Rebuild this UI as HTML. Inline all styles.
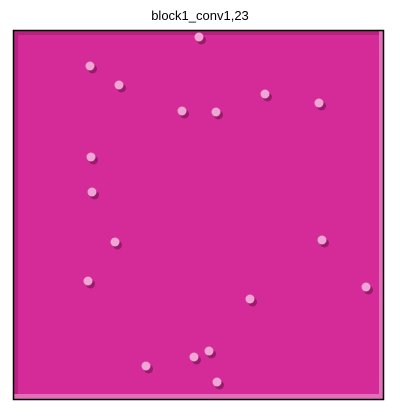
<!DOCTYPE html>
<html><head><meta charset="utf-8"><style>
html,body{margin:0;padding:0;background:#fff;width:400px;height:417px;overflow:hidden}
#title{position:absolute;left:0;width:400px;top:8px;text-align:center;font:13px "Liberation Sans",sans-serif;color:#000}
svg{position:absolute;left:0;top:0}
</style></head><body>
<div id="title">block1_conv1,23</div>
<svg width="400" height="417">
<rect x="13" y="30" width="371" height="370" fill="#d42b98"/>
<rect x="13" y="30" width="371" height="5" fill="#b8227f"/>
<rect x="13" y="30" width="5" height="370" fill="#b8227f"/>
<rect x="379" y="30" width="5" height="370" fill="#e070b8"/>
<rect x="13" y="394" width="371" height="6" fill="#e070b8"/>
<g id="spots"></g>
<rect x="13.5" y="30.5" width="370" height="369" fill="none" stroke="#000" stroke-width="1.5"/>
</svg>
<script>
const spotX=[91,120,266,320,217,183,92,93,116,323,89,367,251,210,195,147,218,200];
const spotY=[67,86,95,104,113,112,158,193,243,241,282,288,300,352,358,367,383,38];
const g=document.getElementById('spots');
const ns='http://www.w3.org/2000/svg';
for(let i=0;i<spotX.length;i++){
  const d=document.createElementNS(ns,'circle');
  d.setAttribute('cx',spotX[i]+1.5);d.setAttribute('cy',spotY[i]+2);
  d.setAttribute('r',4.5);d.setAttribute('fill','#9a1a6c');
  
  
  g.appendChild(d);
  const s=document.createElementNS(ns,'circle');
  s.setAttribute('cx',spotX[i]-1);s.setAttribute('cy',spotY[i]-1);
  s.setAttribute('r',4.5);s.setAttribute('fill','#eea6d4');
  
  
  g.appendChild(s);
}
</script>
</body></html>
